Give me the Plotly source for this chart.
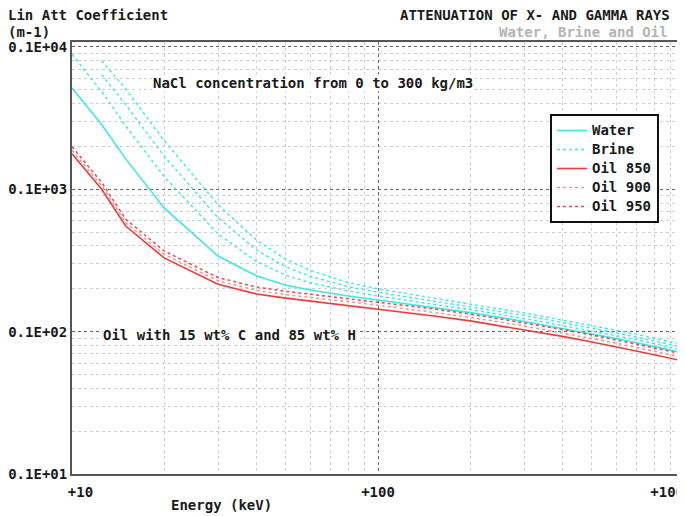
import plotly.graph_objects as go

# ---------------- data ----------------
energy_kev = [10, 12.5, 15, 20, 30, 40, 50, 60, 80, 100, 150, 200, 300, 400, 500, 600, 800, 1000]

water = [515, 285, 163, 74, 34, 24.7, 21.2, 19.6, 17.8, 16.7, 14.8, 13.6, 11.8, 10.55, 9.66, 8.94, 7.85, 7.06]
brine_100 = [886, 487, 278, 123, 48.6, 31.2, 24.9, 22.05, 19.3, 17.8, 15.6, 14.3, 12.4, 11.07, 10.13, 9.38, 8.23, 7.40]
brine_200 = [None, 640, 392, 171, 63.2, 37.6, 28.5, 24.5, 20.7, 18.9, 16.4, 14.9, 13.0, 11.6, 10.6, 9.8, 8.6, 7.73]
brine_300 = [None, 800, 506, 220, 77.9, 44.1, 32.2, 26.95, 22.1, 20.0, 17.2, 15.6, 13.55, 12.1, 11.07, 10.24, 8.99, 8.08]

oil_850 = [178, 100, 55, 33, 21.5, 18.4, 17.2, 16.4, 15.3, 14.5, 12.95, 11.9, 10.35, 9.27, 8.47, 7.85, 6.88, 6.19]
oil_900 = [188, 106, 58.2, 34.9, 22.8, 19.5, 18.2, 17.4, 16.2, 15.35, 13.7, 12.6, 10.96, 9.81, 8.97, 8.31, 7.28, 6.55]
oil_950 = [199, 112, 61.5, 36.9, 24.0, 20.6, 19.2, 18.3, 17.1, 16.2, 14.5, 13.3, 11.57, 10.36, 9.47, 8.77, 7.69, 6.92]

x_tick_vals = [10, 100, 1000]
x_tick_text = ["\u00a0\u00a0+10", "+100", "+1000\u00a0\u00a0\u00a0"]
y_tick_vals = [1, 10, 100, 1000]
y_tick_text = ["0.1E+01", "0.1E+02", "0.1E+03", "0.1E+04"]
x_minor = [20, 30, 40, 50, 60, 70, 80, 90, 200, 300, 400, 500, 600, 700, 800, 900]
y_minor = [2, 3, 4, 5, 6, 7, 8, 9, 20, 30, 40, 50, 60, 70, 80, 90, 200, 300, 400, 500, 600, 700, 800, 900]

# ---------------- layout geometry ----------------
# page body has an 8px margin, so the figure is drawn 8px right/down of the window corner
OFF = 8
W, H = 685 - OFF, 516 - OFF
L, T = 72 - OFF, 42 - OFF
PLOT_BOTTOM = 474 - OFF
R = 0
B = H - PLOT_BOTTOM
PW, PH = W - L - R, H - T - B
FONT = "DejaVu Sans Mono"
CYAN = "#3ee6e6"
RED = "#ee3b3b"
PINK = "#f59494"
RED_DOT = "#e84a4a"
INK = "#1a1a1a"


def px(x):  # window pixel -> paper
    return (x - OFF - L) / PW


def py(y):  # window pixel -> paper
    return (PLOT_BOTTOM - (y - OFF)) / PH


def leg(name):
    return '<span style="font-size:14px">' + name + '</span>'


fig = go.Figure()

fig.add_trace(go.Scatter(x=energy_kev, y=water, mode="lines", name=leg("Water"),
                         line=dict(color=CYAN, width=1.6)))
for i, b in enumerate([brine_100, brine_200, brine_300]):
    fig.add_trace(go.Scatter(x=energy_kev, y=b, mode="lines", name=leg("Brine"),
                             legendgroup="brine", showlegend=(i == 0),
                             line=dict(color=CYAN, width=1.4, dash="dot")))
fig.add_trace(go.Scatter(x=energy_kev, y=oil_850, mode="lines", name=leg("Oil 850"),
                         line=dict(color=RED, width=1.6)))
fig.add_trace(go.Scatter(x=energy_kev, y=oil_900, mode="lines", name=leg("Oil 900"),
                         line=dict(color=PINK, width=1.5, dash="dot")))
fig.add_trace(go.Scatter(x=energy_kev, y=oil_950, mode="lines", name=leg("Oil 950"),
                         line=dict(color=RED_DOT, width=1.5, dash="dot")))

axis_font = dict(family=FONT, size=14, color=INK, weight="bold")

fig.update_layout(
    template="none",
    width=W, height=H,
    margin=dict(l=L, r=R, t=T, b=B, pad=0),
    paper_bgcolor="white", plot_bgcolor="white",
    font=dict(family=FONT, size=14, color=INK, weight="bold"),
    showlegend=True,
    legend=dict(x=px(550), y=py(114), xanchor="left", yanchor="top",
                bgcolor="white", bordercolor="#111111", borderwidth=2,
                font=dict(family=FONT, size=11, color=INK, weight="bold"),
                itemwidth=30, tracegroupgap=0),
    xaxis=dict(type="log", range=[1, 3.003], automargin=False,
               showline=True, mirror=True, linecolor="#555555", linewidth=2,
               tickmode="array", tickvals=x_tick_vals, ticktext=x_tick_text,
               ticks="", tickfont=axis_font, ticklabelstandoff=4,
               ticklabeloverflow="allow",
               showgrid=True, gridcolor="#666666", griddash="dot", gridwidth=1,
               zeroline=False,
               minor=dict(tickmode="array", tickvals=x_minor, showgrid=True,
                          gridcolor="#cfcfcf", griddash="dot", gridwidth=1, ticks="")),
    yaxis=dict(type="log", range=[0, 3.035], automargin=False,
               showline=True, mirror=True, linecolor="#555555", linewidth=2,
               tickmode="array", tickvals=y_tick_vals, ticktext=y_tick_text,
               ticks="", tickfont=axis_font, ticklabelstandoff=0,
               ticklabeloverflow="allow",
               showgrid=True, gridcolor="#666666", griddash="dot", gridwidth=1,
               zeroline=False,
               minor=dict(tickmode="array", tickvals=y_minor, showgrid=True,
                          gridcolor="#cfcfcf", griddash="dot", gridwidth=1, ticks="")),
)


def note(text, x, y, anchor="left", color=INK, bg=None):
    f = dict(family=FONT, size=14, color=color, weight="bold")
    fig.add_annotation(text=text, xref="paper", yref="paper", x=px(x), y=py(y),
                       xanchor=anchor, yanchor="middle", showarrow=False, font=f,
                       bgcolor=bg, borderpad=0)


note("Lin Att Coefficient", 7, 15)
note("(m-1)", 7, 32)
note("ATTENUATION OF X- AND GAMMA RAYS", 671, 15, anchor="right")
note("Water, Brine and Oil", 669, 32, anchor="right", color="#b4b4b4")
note("NaCl concentration from 0 to 300 kg/m3", 152, 83, bg="white")
note("Oil with 15 wt% C and 85 wt% H", 102, 335, bg="white")
note("Energy (keV)", 170, 505)

fig.write_html("out.html")
